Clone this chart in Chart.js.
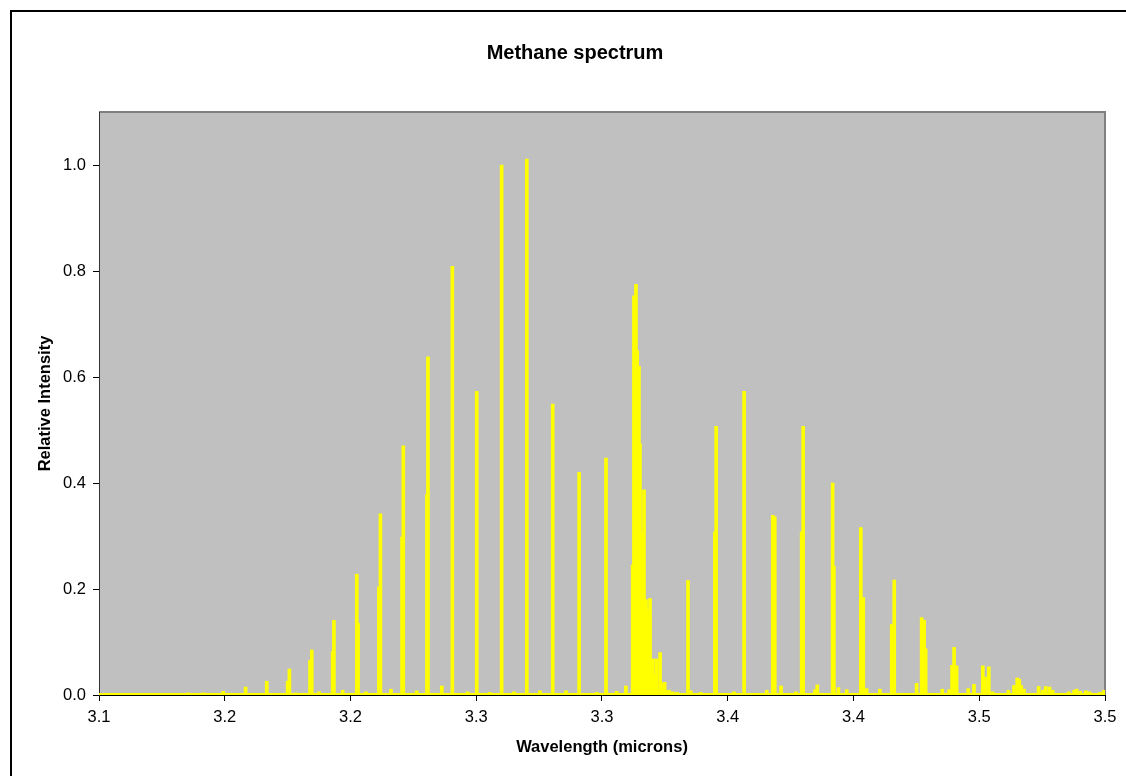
<!DOCTYPE html>
<html>
<head>
<meta charset="utf-8">
<title>Methane spectrum</title>
<script src="https://cdn.jsdelivr.net/npm/chart.js@4.4.0/dist/chart.umd.min.js"></script>
<style>
  html, body { margin: 0; padding: 0; background: #fff; overflow: hidden; }
  #wrap { width: 1126px; height: 776px; }
</style>
</head>
<body>
<div id="wrap"><canvas id="spectrum" width="1126" height="776"></canvas></div>
<script>
// line positions (microns) and relative intensities
const peakWl = [
  3.1036, 3.1123, 3.1211, 3.1306, 3.1354, 3.1414, 3.1449, 3.1494, 3.1583, 3.1667,
  3.1750, 3.1757, 3.1783, 3.1839, 3.1846, 3.1875, 3.1929, 3.1934, 3.1969, 3.2025,
  3.2030, 3.2062, 3.2113, 3.2119, 3.2161, 3.2205, 3.2210, 3.2263, 3.2304, 3.2308,
  3.2363, 3.2405, 3.2466, 3.2502, 3.2553, 3.2601, 3.2650, 3.2701, 3.2753, 3.2804,
  3.2857, 3.2909, 3.2979, 3.3016, 3.3058, 3.3095,
  3.3122, 3.3127, 3.3135, 3.3140, 3.3147, 3.3151, 3.3158, 3.3167, 3.3175, 3.3180,
  3.3186, 3.3191, 3.3196, 3.3202, 3.3211, 3.3217, 3.3231, 3.3239, 3.3249, 3.3257,
  3.3266, 3.3281, 3.3299, 3.3342, 3.3353, 3.3392, 3.3449, 3.3454, 3.3525, 3.3565,
  3.3655, 3.3679, 3.3687, 3.3712, 3.3771, 3.3794, 3.3800, 3.3847, 3.3856, 3.3917,
  3.3922, 3.3940, 3.3973, 3.4029, 3.4039, 3.4052, 3.4105, 3.4152, 3.4162, 3.4251,
  3.4271, 3.4281, 3.4287, 3.4353, 3.4380, 3.4392, 3.4400, 3.4410, 3.4456, 3.4479,
  3.4514, 3.4523, 3.4538, 3.4553, 3.4616, 3.4638, 3.4651, 3.4659, 3.4667, 3.4678,
  3.4736, 3.4752, 3.4764, 3.4779, 3.4792, 3.4856, 3.4877, 3.4887, 3.4901, 3.4924,
  3.4938, 3.4980, 3.4996
];
const peakInt = [
  0.003, 0.002, 0.003, 0.002, 0.004, 0.004, 0.003, 0.007, 0.015, 0.026,
  0.026, 0.049, 0.004, 0.065, 0.085, 0.006, 0.082, 0.141, 0.009, 0.228,
  0.135, 0.006, 0.204, 0.342, 0.011, 0.298, 0.470, 0.008, 0.378, 0.638,
  0.017, 0.809, 0.006, 0.573, 0.005, 1.000, 0.006, 1.011, 0.008, 0.549,
  0.008, 0.420, 0.005, 0.447, 0.007, 0.017,
  0.245, 0.753, 0.775, 0.650, 0.620, 0.474, 0.305, 0.387, 0.180, 0.161,
  0.110, 0.182, 0.041, 0.068, 0.038, 0.068, 0.080, 0.022, 0.024, 0.008,
  0.009, 0.006, 0.005, 0.216, 0.008, 0.005, 0.308, 0.507, 0.006, 0.573,
  0.009, 0.339, 0.336, 0.017, 0.006, 0.308, 0.507, 0.010, 0.019, 0.400,
  0.243, 0.014, 0.010, 0.316, 0.184, 0.012, 0.011, 0.133, 0.217, 0.022,
  0.146, 0.141, 0.087, 0.011, 0.010, 0.056, 0.090, 0.055, 0.012, 0.020,
  0.055, 0.034, 0.053, 0.006, 0.009, 0.018, 0.032, 0.030, 0.018, 0.011,
  0.016, 0.009, 0.016, 0.015, 0.009, 0.006, 0.009, 0.011, 0.007, 0.008,
  0.006, 0.005, 0.009
];
// flat continuum under the lines
const baseWl = [3.10, 3.50];
const baseInt = [0.002, 0.002];

const xTickValues = [3.10, 3.15, 3.20, 3.25, 3.30, 3.35, 3.40, 3.45, 3.50];
const xTickLabels = ['3.1', '3.2', '3.2', '3.3', '3.3', '3.4', '3.4', '3.5', '3.5'];
const yTickValues = [0, 0.2, 0.4, 0.6, 0.8, 1.0];
const yTickLabels = ['0.0', '0.2', '0.4', '0.6', '0.8', '1.0'];

const FONT = "Arial, 'Liberation Sans', sans-serif";
Chart.defaults.font.family = FONT;
Chart.defaults.color = '#000';

// white page, outer black frame, grey plot area
const frame = {
  id: 'frame',
  beforeDraw(chart) {
    const { ctx, chartArea: a } = chart;
    ctx.save();
    ctx.fillStyle = '#fff';
    ctx.fillRect(0, 0, chart.width, chart.height);
    ctx.strokeStyle = '#000';
    ctx.lineWidth = 2;
    ctx.strokeRect(11, 11, chart.width + 40, chart.height + 40);
    ctx.fillStyle = '#C0C0C0';
    ctx.fillRect(a.left, a.top, a.right - a.left, a.bottom - a.top);
    ctx.strokeStyle = '#808080';
    ctx.lineWidth = 2;
    ctx.beginPath();
    ctx.moveTo(a.left, a.top);
    ctx.lineTo(a.right, a.top);
    ctx.lineTo(a.right, a.bottom);
    ctx.stroke();
    ctx.restore();
  }
};

new Chart(document.getElementById('spectrum'), {
  type: 'bar',
  data: {
    datasets: [
      {
        type: 'bar',
        data: peakWl.map((x, i) => ({ x, y: peakInt[i] })),
        backgroundColor: '#FFFF00',
        borderWidth: 0,
        barThickness: 3,
        grouped: false
      },
      {
        type: 'line',
        data: baseWl.map((x, i) => ({ x, y: baseInt[i] })),
        borderColor: '#FFFF00',
        borderWidth: 2,
        pointRadius: 0
      }
    ]
  },
  options: {
    responsive: false,
    animation: false,
    layout: { padding: { left: 24, right: 0, top: 0, bottom: 0 } },
    plugins: {
      legend: { display: false },
      tooltip: { enabled: false },
      title: {
        display: true,
        text: 'Methane spectrum',
        color: '#000',
        font: { family: FONT, size: 20, weight: 'bold' },
        padding: { top: 41, bottom: 47 }
      }
    },
    scales: {
      x: {
        type: 'linear',
        min: 3.10,
        max: 3.50,
        offset: false,
        afterBuildTicks(s) { s.ticks = xTickValues.map(v => ({ value: v })); },
        afterFit(s) { s.height = 81; },
        ticks: {
          autoSkip: false, maxRotation: 0, padding: 7,
          font: { size: 16.5 }, color: '#000',
          callback: (v, i) => xTickLabels[i]
        },
        grid: { offset: false, drawOnChartArea: false, drawTicks: true, tickLength: 6, color: '#000' },
        border: { display: true, color: '#000', width: 1 },
        title: {
          display: true,
          text: 'Wavelength (microns)',
          color: '#000',
          font: { size: 16.5, weight: 'bold' },
          padding: { top: 0, bottom: 19 }
        }
      },
      y: {
        min: 0,
        max: 1.1,
        afterBuildTicks(s) { s.ticks = yTickValues.map(v => ({ value: v })); },
        afterFit(s) { s.width = 75; },
        ticks: {
          padding: 7, font: { size: 16.5 }, color: '#000',
          callback: (v, i) => yTickLabels[i]
        },
        grid: { drawOnChartArea: false, drawTicks: true, tickLength: 6, color: '#000' },
        border: { display: true, color: '#333', width: 1 },
        title: {
          display: true,
          text: 'Relative Intensity',
          color: '#000',
          font: { size: 16.5, weight: 'bold' },
          padding: { top: 12, bottom: 0 }
        }
      },
      // empty strip on the right so the plot ends where the reference does
      yRight: {
        position: 'right',
        min: 0,
        max: 1,
        afterFit(s) { s.width = 21; },
        ticks: { display: false },
        grid: { display: false },
        border: { display: false }
      }
    }
  },
  plugins: [frame]
});
</script>
</body>
</html>
